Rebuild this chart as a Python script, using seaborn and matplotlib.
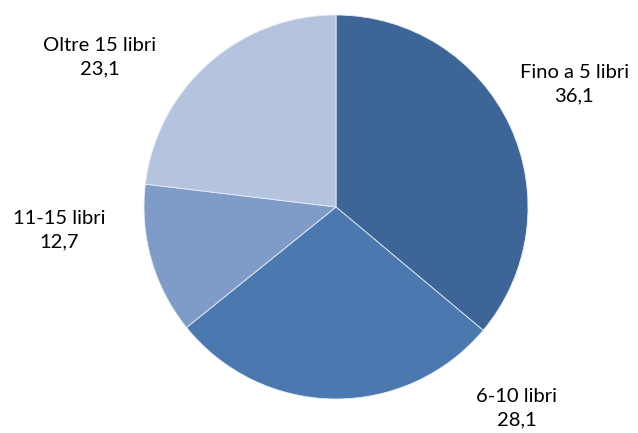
import matplotlib
matplotlib.use("Agg")
import matplotlib.pyplot as plt
import seaborn as sns

# data
categories = ["Fino a 5 libri", "6-10 libri", "11-15 libri", "Oltre 15 libri"]
values = [36.1, 28.1, 12.7, 23.1]
value_labels = ["36,1", "28,1", "12,7", "23,1"]
colors = ["#3D6597", "#4A78AF", "#7F9CC8", "#B4C4DF"]

# label centres in pie units (radius = 1), best-fit style placement
label_pos = [(1.24, 0.64), (0.94, -1.05), (-1.44, -0.12), (-1.23, 0.78)]

sns.set_style("white")
plt.rcParams['font.family'] = ['Lato', 'DejaVu Sans']

W, H = 638, 433
cx, cy, r = 336, 207, 192
fig = plt.figure(figsize=(W / 100, H / 100), dpi=100)
ax = fig.add_axes([(cx - r) / W, (H - cy - r) / H, 2 * r / W, 2 * r / H])

ax.pie(values, colors=colors, startangle=90, counterclock=False, radius=1,
       wedgeprops=dict(edgecolor="#E8EEF6", linewidth=0.6))
ax.set_xlim(-1, 1)
ax.set_ylim(-1, 1)
ax.set_aspect("equal")
ax.axis("off")

for cat, lab, (x, y) in zip(categories, value_labels, label_pos):
    ax.text(x, y, f"{cat}\n{lab}", ha="center", va="center", fontsize=14.5,
            linespacing=1.45, color="black", clip_on=False)

fig.savefig("out.png", dpi=100)
